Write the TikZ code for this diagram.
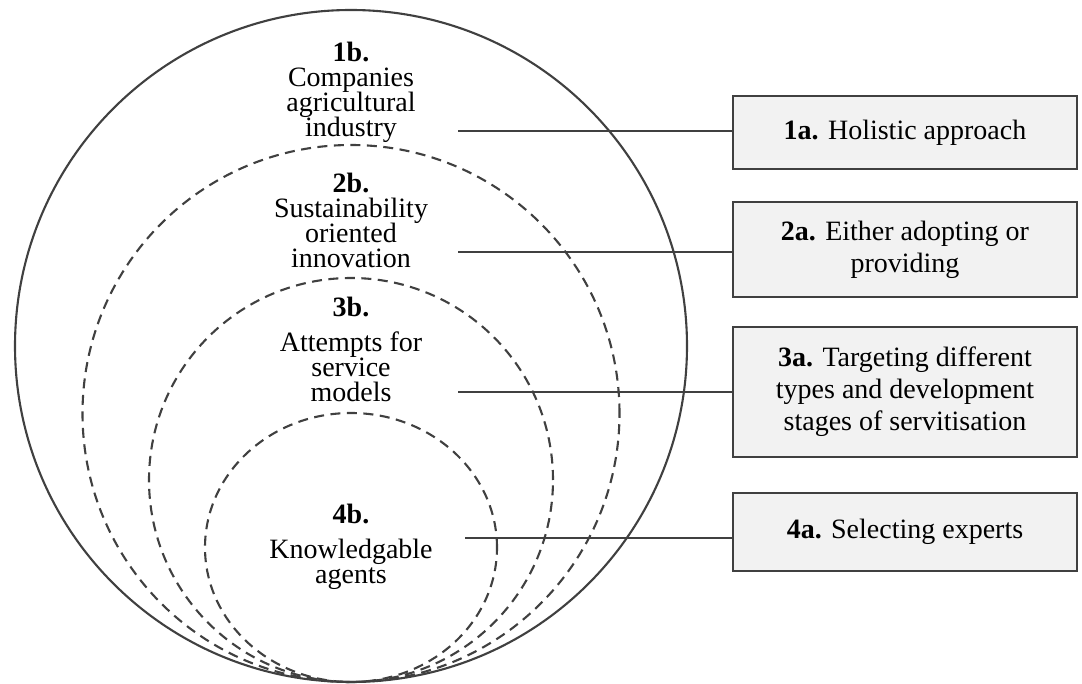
\documentclass[tikz,border=0pt]{standalone}
\usepackage{fontspec}
\setmainfont{Liberation Serif}
\definecolor{edge}{HTML}{404040}
\definecolor{cardfill}{HTML}{F2F2F2}
\newcommand\tightlines{\lineskiplimit=-20pt\relax}
\begin{document}
\begin{tikzpicture}[x=1pt,y=-1pt,
  ink/.style={draw=edge, line width=2.1pt},
  ring/.style={ink, dash pattern=on 10pt off 6.5pt},
  ringtext/.style={align=center, inner sep=0pt, anchor=base,
    font=\fontsize{28}{25}\selectfont\tightlines},
  card/.style={draw=edge, line width=2.2pt, fill=cardfill, minimum width=344pt,
    inner sep=0pt, align=center, font=\fontsize{28}{32}\selectfont\tightlines},
  link/.style={ink}]
\useasboundingbox (0,0) rectangle (1082,684);
\fill[white] (0,0) rectangle (1082,684);

% nested rings, all touching at the bottom
\draw[ink]  (351,346)   circle [radius=336pt];
\draw[ring] (351,413.5) circle [radius=268.5pt];
\draw[ring] (351,480)   circle [radius=202pt];
\draw[ring] (351,547.5) ellipse [x radius=146pt, y radius=134.5pt];

% labels inside the rings (placed by the baseline of their last line)
\node[ringtext] (b1) at (351,137) {\textbf{1b.}\\Companies\\agricultural\\industry};
\node[ringtext] (b2) at (351,268) {\textbf{2b.}\\Sustainability\\oriented\\innovation};
\node[ringtext] (b3) at (351,402) {\textbf{3b.}\\[10pt]Attempts for\\service\\models};
\node[ringtext] (b4) at (351,583) {\textbf{4b.}\\[10pt]Knowledgable\\agents};

% explanation boxes
\node[card, minimum height=73pt]  (a1) at (905,132.5) {\textbf{1a.} Holistic approach};
\node[card, minimum height=95pt]  (a2) at (905,249.5) {\textbf{2a.} Either adopting or\\providing};
\node[card, minimum height=130pt] (a3) at (905,392)   {\textbf{3a.} Targeting different\\types and development\\stages of servitisation};
\node[card, minimum height=78pt]  (a4) at (905,532)   {\textbf{4a.} Selecting experts};

% connector start points
\coordinate (s1) at (458,131);
\coordinate (s2) at (458,252);
\coordinate (s3) at (458,392);
\coordinate (s4) at (465,538);

\draw[link] (s1) -- (s1 -| a1.west);
\draw[link] (s2) -- (s2 -| a2.west);
\draw[link] (s3) -- (s3 -| a3.west);
\draw[link] (s4) -- (s4 -| a4.west);
\end{tikzpicture}
\end{document}
